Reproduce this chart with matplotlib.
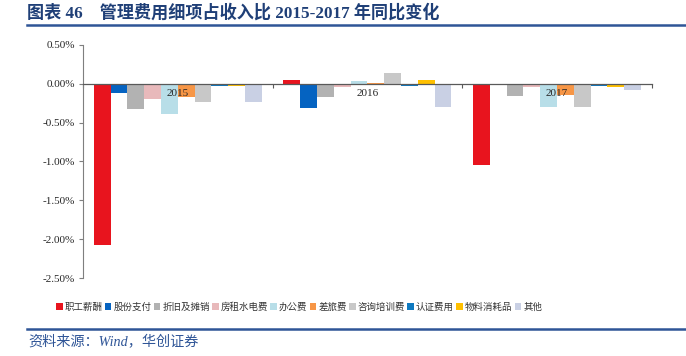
import matplotlib
matplotlib.use("Agg")
import matplotlib.pyplot as plt
from matplotlib.patches import Patch
from matplotlib.ticker import FuncFormatter, FixedLocator
import numpy as np

years = ["2015", "2016", "2017"]
items = ["职工薪酬", "股份支付", "折旧及摊销", "房租水电费", "办公费",
         "差旅费", "咨询培训费", "认证费用", "物料消耗品", "其他"]
colors = ["#E8141E", "#0563C1", "#B2B2B2", "#E8B9BB", "#B8DEE8",
          "#F79646", "#C8C8C8", "#0E79C0", "#FFC000", "#C9D0E4"]

# percent values, one list per item (2015, 2016, 2017)
salary = [-2.08, 0.045, -1.04]
equity_pay = [-0.125, -0.31, 0.0]
depreciation = [-0.32, -0.17, -0.16]
rent = [-0.20, -0.04, -0.04]
office = [-0.39, 0.03, -0.30]
travel = [-0.17, 0.01, -0.14]
consulting = [-0.24, 0.14, -0.30]
certification = [-0.03, -0.025, -0.025]
materials = [-0.03, 0.05, -0.04]
others = [-0.24, -0.30, -0.075]
series = [salary, equity_pay, depreciation, rent, office,
          travel, consulting, certification, materials, others]

serif_cjk = ["Liberation Serif", "Noto Sans CJK SC"]
cjk_serif = ["Noto Sans CJK SC", "Liberation Serif"]
title_blue = "#1F3F77"

fig = plt.figure(figsize=(6.86, 3.56), dpi=100)
ax = fig.add_axes([0.121, 0.219, 0.829, 0.655])

n = len(items)
bar_w = 0.0886
margin = (1 - n * bar_w) / 2
x = np.arange(len(years))
for j, (vals, col) in enumerate(zip(series, colors)):
    pos = x - 0.5 + margin + (j + 0.5) * bar_w
    ax.bar(pos, vals, width=bar_w, color=col, linewidth=0, zorder=1)

ax.set_xlim(-0.5, len(years) - 0.5)
ax.set_ylim(-2.5, 0.5)
ax.set_yticks(np.arange(-2.5, 0.51, 0.5))
ax.yaxis.set_major_formatter(FuncFormatter(lambda v, p: "%.2f%%" % v))

for s in ["top", "right"]:
    ax.spines[s].set_visible(False)
ax.spines["left"].set_color("#7F7F7F")
ax.spines["bottom"].set_position(("data", 0))
ax.spines["bottom"].set_color("#595959")
ax.spines["bottom"].set_linewidth(0.9)
ax.spines["bottom"].set_zorder(3)

ax.xaxis.set_major_locator(FixedLocator(np.arange(-0.5, len(years), 1.0)))
ax.xaxis.set_major_formatter(FuncFormatter(lambda v, p: ""))
ax.xaxis.set_minor_locator(FixedLocator(x))
ax.set_xticklabels(years, minor=True)
ax.tick_params(axis="x", which="major", length=3, color="#595959", direction="out")
ax.tick_params(axis="x", which="minor", length=0, pad=4, labelsize=8)
ax.tick_params(axis="y", length=3, color="#7F7F7F", labelsize=8, pad=3)
for lab in ax.get_yticklabels() + ax.get_xticklabels(minor=True):
    lab.set_family(serif_cjk)
    lab.set_color("#262626")

handles = [Patch(facecolor=c, edgecolor="none") for c in colors]
leg = fig.legend(handles, items, loc="center", bbox_to_anchor=(0.436, 0.138),
                 ncol=n, frameon=False, handlelength=0.7, handleheight=0.7,
                 handletextpad=0.2, columnspacing=0.25,
                 prop={"family": cjk_serif, "size": 6.8})
for t in leg.get_texts():
    t.set_color("#333333")

fig.text(0.040, 0.965, "图表 46    管理费用细项占收入比 2015-2017 年同比变化",
         family=serif_cjk, fontsize=12.3, fontweight="bold", color=title_blue,
         va="center", ha="left")
fig.add_artist(plt.Line2D([0.039, 1.0], [0.929, 0.929], color="#2F5597", linewidth=1.8))
fig.add_artist(plt.Line2D([0.039, 1.0], [0.076, 0.076], color="#2F5597", linewidth=1.8))
fig.text(0.041, 0.040, "资料来源：Wind，华创证券", family=serif_cjk, style="italic",
         fontsize=10.2, color="#2F5597", va="center", ha="left")

fig.savefig("out.png", dpi=100)
